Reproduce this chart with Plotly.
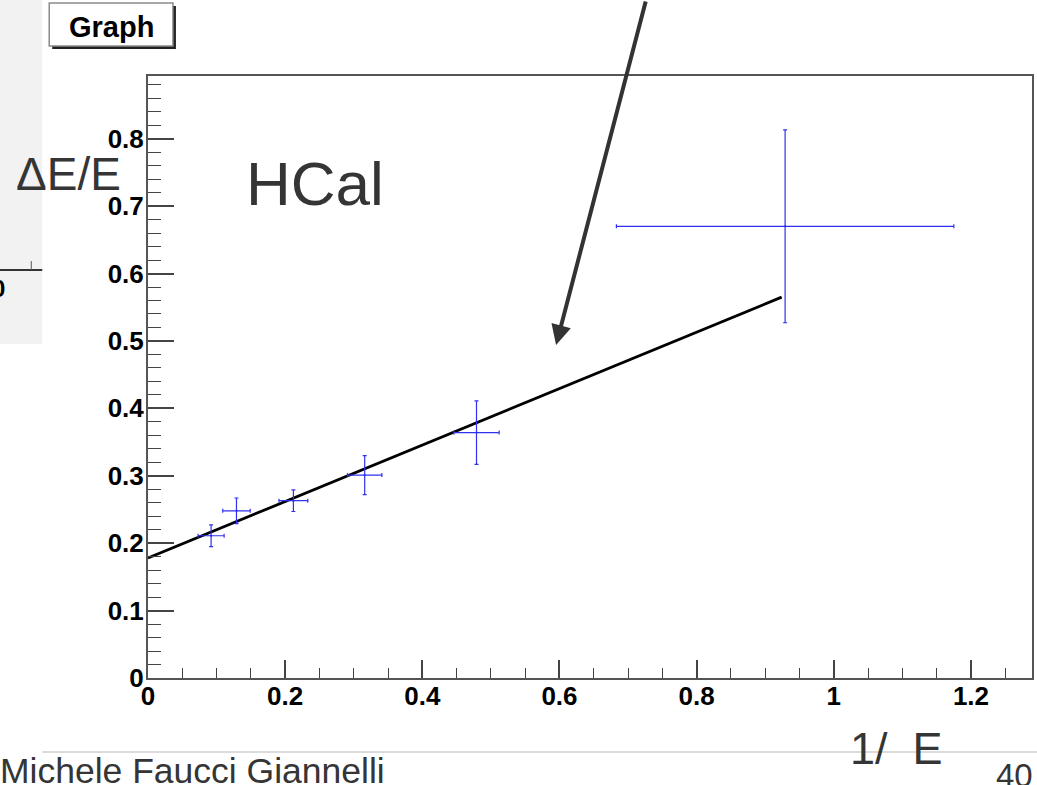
import plotly.graph_objects as go

# ---- data ----
x_vals = [0.092, 0.129, 0.212, 0.316, 0.479, 0.929]
y_vals = [0.211, 0.248, 0.263, 0.301, 0.364, 0.670]
x_err = [0.019, 0.020, 0.021, 0.025, 0.033, 0.246]
y_err = [0.016, 0.019, 0.016, 0.029, 0.047, 0.143]
fit_x = [0.0, 0.924]
fit_y = [0.178, 0.565]
x_ticks = [0, 0.2, 0.4, 0.6, 0.8, 1.0, 1.2]
x_tick_labels = ["0", "0.2", "0.4", "0.6", "0.8", "1", "1.2"]
y_ticks = [0, 0.1, 0.2, 0.3, 0.4, 0.5, 0.6, 0.7, 0.8]
y_tick_labels = ["0", "0.1", "0.2", "0.3", "0.4", "0.5", "0.6", "0.7", "0.8"]
x_range = [0, 1.289]
y_range = [0, 0.893]

# ---- layout geometry (pixels) ----
W, H = 1037, 785
L, R, T, B = 148, 1034, 76, 678


def px(x):
    return (x - L) / (R - L)


def py(y):
    return (B - y) / (B - T)


FONT = "Liberation Sans, Arial, Helvetica, sans-serif"
TXT = "#353535"

fig = go.Figure()

fig.add_trace(go.Scatter(
    x=fit_x, y=fit_y, mode="lines",
    line=dict(color="black", width=2.8),
    hoverinfo="skip", showlegend=False,
))

fig.add_trace(go.Scatter(
    x=x_vals, y=y_vals, mode="markers",
    marker=dict(size=2, color="#2a2af0"),
    error_x=dict(type="data", array=x_err, color="#3030f0", thickness=1.2, width=2),
    error_y=dict(type="data", array=y_err, color="#3030f0", thickness=1.2, width=2),
    showlegend=False,
))

axis_common = dict(
    showgrid=False, zeroline=False,
    showline=True, linecolor="#555555", linewidth=2, mirror=True,
    ticks="inside", tickcolor="#444444", tickwidth=1.5,
    tickfont=dict(family=FONT, size=26, color="black", weight="bold"),
)

fig.update_xaxes(
    range=x_range, tickmode="array", tickvals=x_ticks, ticktext=x_tick_labels,
    ticklen=18, ticklabelstandoff=-6,
    minor=dict(dtick=0.05, tick0=0, ticks="inside", ticklen=10, tickcolor="#444444", tickwidth=1.2),
    **axis_common,
)
fig.update_yaxes(
    range=y_range, tickmode="array", tickvals=y_ticks, ticktext=y_tick_labels,
    ticklen=26, ticklabelstandoff=-3,
    minor=dict(dtick=0.02, tick0=0, ticks="inside", ticklen=13, tickcolor="#444444", tickwidth=1.2),
    **axis_common,
)

shapes = [
    # grey panel of the previous slide element on the left
    dict(type="rect", xref="paper", yref="paper", x0=px(-5), x1=px(42), y0=py(344), y1=py(-5),
         fillcolor="#f2f2f2", line=dict(width=0), layer="below"),
    dict(type="line", xref="paper", yref="paper", x0=px(-2), x1=px(42), y0=py(270), y1=py(270),
         line=dict(color="#333333", width=2)),
    dict(type="line", xref="paper", yref="paper", x0=px(31), x1=px(31), y0=py(270), y1=py(261),
         line=dict(color="#555555", width=1)),
    # canvas bottom edge
    dict(type="line", xref="paper", yref="paper", x0=px(42), x1=px(1040), y0=py(752), y1=py(752),
         line=dict(color="#dcdcdc", width=2)),
    # "Graph" title box: shadow then box
    dict(type="rect", xref="paper", yref="paper", x0=px(52), x1=px(176), y0=py(49), y1=py(6),
         fillcolor="#222222", line=dict(width=0)),
    dict(type="rect", xref="paper", yref="paper", x0=px(49), x1=px(173), y0=py(46), y1=py(3),
         fillcolor="white", line=dict(color="#8a8a8a", width=1.5)),
]

annotations = [
    dict(text="<b>Graph</b>", x=px(111), y=py(27), xref="paper", yref="paper",
         showarrow=False, xanchor="center", yanchor="middle",
         font=dict(family=FONT, size=29, color="black")),
    dict(text="ΔE/E", x=px(14), y=py(174), xref="paper", yref="paper",
         showarrow=False, xanchor="left", yanchor="middle",
         font=dict(family=FONT, size=46, color=TXT)),
    dict(text="HCal", x=px(244), y=py(183), xref="paper", yref="paper",
         showarrow=False, xanchor="left", yanchor="middle",
         font=dict(family=FONT, size=62, color=TXT)),
    dict(text="1/  E", x=px(850), y=py(748), xref="paper", yref="paper",
         showarrow=False, xanchor="left", yanchor="middle",
         font=dict(family=FONT, size=45, color=TXT)),
    dict(text="Michele Faucci Giannelli", x=px(-2), y=py(771), xref="paper", yref="paper",
         showarrow=False, xanchor="left", yanchor="middle",
         font=dict(family=FONT, size=35.5, color=TXT)),
    dict(text="40", x=px(996), y=py(775), xref="paper", yref="paper",
         showarrow=False, xanchor="left", yanchor="middle",
         font=dict(family=FONT, size=33, color=TXT)),
    dict(text="<b>0</b>", x=px(7), y=py(288), xref="paper", yref="paper",
         showarrow=False, xanchor="right", yanchor="middle",
         font=dict(family=FONT, size=24, color="black")),
    # arrow pointing to the fit line
    dict(text="", x=px(557), y=py(345), xref="paper", yref="paper",
         showarrow=True, axref="pixel", ayref="pixel", ax=90, ay=-352,
         arrowhead=2, arrowsize=1, arrowwidth=4, arrowcolor="#333333", standoff=0),
]

fig.update_layout(
    width=W, height=H, autosize=False,
    margin=dict(l=L, r=W - R, t=T, b=H - B, pad=0),
    paper_bgcolor="white", plot_bgcolor="white",
    shapes=shapes, annotations=annotations,
    showlegend=False,
)

fig.write_html("out.html")
